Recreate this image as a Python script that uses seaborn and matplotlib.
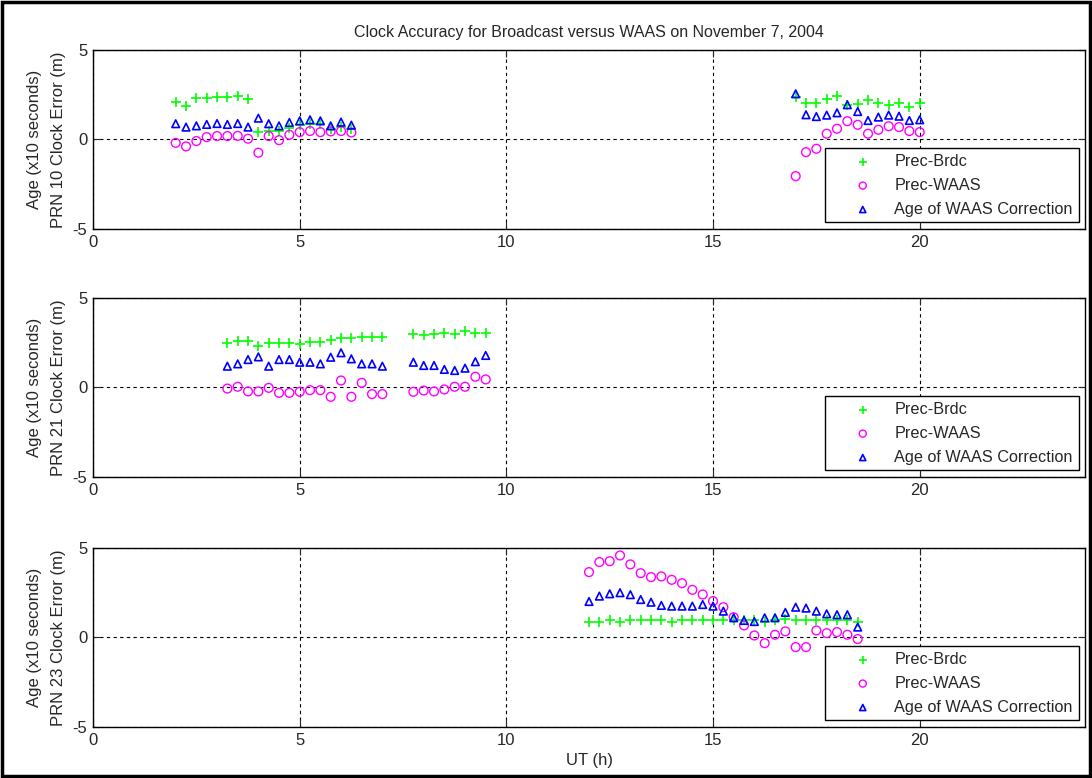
import matplotlib
matplotlib.use("Agg")
import matplotlib.pyplot as plt
import seaborn as sns
import pandas as pd
import numpy as np
from matplotlib.patches import Rectangle

# PRN 10
prn10_t = [2.0, 2.25, 2.5, 2.75, 3.0, 3.25, 3.5, 3.75, 4.0, 4.25, 4.5, 4.75, 5.0, 5.25, 5.5, 5.75, 6.0, 6.25,
           17.0, 17.25, 17.5, 17.75, 18.0, 18.25, 18.5, 18.75, 19.0, 19.25, 19.5, 19.75, 20.0]
prn10_brdc = [2.12, 1.88, 2.31, 2.3, 2.35, 2.35, 2.42, 2.27, 0.39, 0.5, 0.5, 0.65, 0.78, 0.84, 0.84, 0.6, 0.7, 0.6,
              2.36, 2.05, 2.05, 2.27, 2.44, 1.92, 1.99, 2.22, 2.05, 1.94, 2.05, 1.8, 2.05]
prn10_waas = [-0.19, -0.39, -0.09, 0.13, 0.19, 0.19, 0.2, 0.04, -0.74, 0.19, -0.04, 0.26, 0.41, 0.47, 0.41, 0.45, 0.47, 0.39,
              -2.05, -0.71, -0.52, 0.32, 0.6, 1.02, 0.82, 0.32, 0.54, 0.74, 0.69, 0.47, 0.41]
prn10_age = [0.88, 0.69, 0.76, 0.84, 0.89, 0.84, 0.89, 0.69, 1.19, 0.88, 0.76, 0.95, 1.04, 1.1, 1.04, 0.76, 0.97, 0.8,
             2.55, 1.38, 1.28, 1.36, 1.49, 1.94, 1.56, 1.06, 1.25, 1.36, 1.3, 1.06, 1.1]

# PRN 21
prn21_t = [3.25, 3.5, 3.75, 4.0, 4.25, 4.5, 4.75, 5.0, 5.25, 5.5, 5.75, 6.0, 6.25, 6.5, 6.75, 7.0,
           7.75, 8.0, 8.25, 8.5, 8.75, 9.0, 9.25, 9.5]
prn21_brdc = [2.46, 2.57, 2.57, 2.31, 2.46, 2.46, 2.5, 2.44, 2.53, 2.53, 2.68, 2.74, 2.74, 2.81, 2.81, 2.81,
              2.98, 2.94, 2.98, 3.03, 2.98, 3.15, 3.03, 3.03]
prn21_waas = [-0.06, 0.04, -0.22, -0.22, -0.02, -0.3, -0.3, -0.24, -0.15, -0.15, -0.52, 0.39, -0.52, 0.26, -0.37, -0.37,
              -0.24, -0.17, -0.22, -0.11, 0.04, 0.04, 0.6, 0.45]
prn21_age = [1.19, 1.32, 1.56, 1.71, 1.19, 1.56, 1.56, 1.41, 1.41, 1.32, 1.69, 1.94, 1.6, 1.32, 1.32, 1.19,
             1.41, 1.23, 1.23, 1.01, 0.95, 1.08, 1.44, 1.79]

# PRN 23
prn23_t = [12.0, 12.25, 12.5, 12.75, 13.0, 13.25, 13.5, 13.75, 14.0, 14.25, 14.5, 14.75, 15.0, 15.25,
           15.5, 15.75, 16.0, 16.25, 16.5, 16.75, 17.0, 17.25, 17.5, 17.75, 18.0, 18.25, 18.5]
prn23_brdc = [0.89, 0.89, 0.95, 0.89, 0.95, 0.95, 0.95, 0.99, 0.89, 0.95, 0.95, 0.99, 0.95, 0.95,
              0.99, 0.99, 0.95, 0.89, 0.99, 1.02, 0.95, 0.95, 0.95, 0.95, 0.95, 0.95, 0.89]
prn23_waas = [3.65, 4.21, 4.26, 4.58, 4.08, 3.59, 3.37, 3.41, 3.22, 3.03, 2.66, 2.4, 2.03, 1.69,
              1.13, 0.67, 0.11, -0.32, 0.15, 0.34, -0.54, -0.54, 0.39, 0.24, 0.3, 0.15, -0.09]
prn23_age = [2.01, 2.31, 2.44, 2.5, 2.39, 2.12, 1.97, 1.79, 1.75, 1.75, 1.75, 1.84, 1.75, 1.47,
             1.1, 0.95, 0.89, 1.1, 1.1, 1.4, 1.69, 1.64, 1.47, 1.32, 1.27, 1.27, 0.58]

panels = [
    ("PRN 10", prn10_t, prn10_brdc, prn10_waas, prn10_age),
    ("PRN 21", prn21_t, prn21_brdc, prn21_waas, prn21_age),
    ("PRN 23", prn23_t, prn23_brdc, prn23_waas, prn23_age),
]

sns.set_style("ticks")
plt.rcParams['font.family'] = ['Liberation Sans', 'DejaVu Sans']
plt.rcParams['axes.unicode_minus'] = False

fig = plt.figure(figsize=(10.92, 7.78), dpi=100)
fig.patch.set_facecolor('white')
fig.patches.append(Rectangle((0.002, 0.002), 0.996, 0.996, transform=fig.transFigure,
                             fill=False, edgecolor='black', linewidth=2.5))

left, width, height = 0.0852, 0.9084, 0.2301
bottoms = [0.7057, 0.3869, 0.0656]

for i, (prn, t, brdc, waas, age) in enumerate(panels):
    ax = fig.add_axes([left, bottoms[i], width, height])
    df = pd.DataFrame({'t': t, 'brdc': brdc, 'waas': waas, 'age': age})
    sns.scatterplot(data=df, x='t', y='brdc', marker='+', s=60, color=(0, 1, 0),
                    linewidth=1.2, ax=ax, label='Prec-Brdc')
    sns.scatterplot(data=df, x='t', y='waas', marker='o', s=40, facecolors='none',
                    edgecolor=(1, 0, 1), linewidth=1.0, ax=ax, label='Prec-WAAS')
    sns.scatterplot(data=df, x='t', y='age', marker='^', s=30, facecolors='none',
                    edgecolor=(0, 0, 1), linewidth=1.2, ax=ax, label='Age of WAAS Correction')

    ax.set_xlim(0, 24)
    ax.set_ylim(-5, 5)
    ax.set_xticks([0, 5, 10, 15, 20])
    ax.set_yticks([-5, 0, 5])
    ax.grid(True, linestyle=(0, (3, 3)), color='black', linewidth=0.8)
    ax.tick_params(direction='in', length=5, labelsize=12, top=True, right=True, pad=4)
    for sp in ax.spines.values():
        sp.set_visible(True)
        sp.set_color('black')
        sp.set_linewidth(1.0)
    ax.set_ylabel(f"Age (x10 seconds)\n{prn} Clock Error (m)", fontsize=12, labelpad=5,
                  linespacing=1.7)
    ax.set_xlabel("UT (h)" if i == 2 else "", fontsize=12)

    leg = ax.legend(loc='lower right', fontsize=11.7, frameon=True, fancybox=False,
                    edgecolor='black', framealpha=1, borderaxespad=0.4,
                    handlelength=3.9, handletextpad=0.0, labelspacing=0.55,
                    borderpad=0.35, markerscale=0.8)
    leg.get_frame().set_linewidth(1.0)

fig.text(0.5394, 0.958, "Clock Accuracy for Broadcast versus WAAS on November 7, 2004",
         ha='center', va='center', fontsize=11.5)

fig.savefig("out.png", dpi=100)
